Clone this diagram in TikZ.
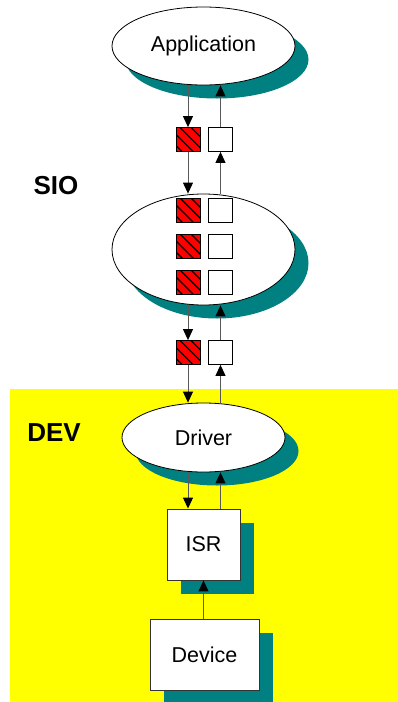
\documentclass[tikz,border=0pt]{standalone}
\usepackage{fontspec}
\setmainfont{Liberation Sans}
\usetikzlibrary{shapes.geometric,shadows,arrows.meta}
\definecolor{shadowteal}{HTML}{008080}
\definecolor{bgyellow}{HTML}{FFFF00}
\tikzset{
  shad/.style={drop shadow={shadow xshift=13.5pt, shadow yshift=-13.5pt, fill=shadowteal, opacity=1}},
  bigell/.style={ellipse, draw=black, line width=0.8pt, fill=white, inner sep=0pt, shad,
    font=\fontsize{21.5}{25}\selectfont},
  bigbox/.style={rectangle, draw=black!80, line width=0.9pt, fill=white, inner sep=0pt, shad,
    font=\fontsize{21.5}{25}\selectfont},
  whitesq/.style={rectangle, draw=black, line width=0.8pt, fill=white, minimum width=24pt, minimum height=24pt, inner sep=0pt},
  redsq/.style={whitesq, fill=red, path picture={
      \foreach \k in {-2,...,1}
        \draw[line width=1.4pt] ([xshift=\k*11pt+4pt]path picture bounding box.north west) -- ++(36pt,-36pt);
    }},
  arr/.style={draw=black!65, line width=1pt, -{Triangle[length=11pt,width=10pt,color=black]}},
  lab/.style={font=\fontsize{26}{30}\selectfont\bfseries}
}
\begin{document}
\begin{tikzpicture}[x=1pt,y=-1pt]
\useasboundingbox (0,0) rectangle (398,702);
\fill[bgyellow] (10,389) rectangle (398,702);

\node[lab] (siolab) at (56,186) {SIO};
\node[lab] (devlab) at (54,433) {DEV};

\node[bigell, minimum width=183pt, minimum height=78pt] (app) at (203.5,46) {Application};
\node[bigell, minimum width=183pt, minimum height=111pt] (sio) at (203.5,249.5) {};
\node[bigell, minimum width=163pt, minimum height=69pt] (drv) at (203.5,437.5) {Driver};
\node[bigbox, minimum width=73pt, minimum height=71pt] (isr) at (203.5,544.5) {ISR};
\node[bigbox, minimum width=109pt, minimum height=71pt] (dev) at (204.5,654.5) {Device};

\node[redsq] (r1) at (188,139.5) {};
\node[whitesq] (w1) at (220.5,139.5) {};
\node[redsq] (r2) at (188,210) {};
\node[whitesq] (w2) at (220.5,210) {};
\node[redsq] (r3) at (188,246) {};
\node[whitesq] (w3) at (220.5,246) {};
\node[redsq] (r4) at (188,282) {};
\node[whitesq] (w4) at (220.5,282) {};
\node[redsq] (r5) at (188,352.5) {};
\node[whitesq] (w5) at (220.5,352.5) {};

\draw[arr] (app.south -| r1) -- (r1.north);
\draw[arr] (r1.south) -- (sio.north -| r1);
\draw[arr] (sio.north -| w1) -- (w1.south);
\draw[arr] (w1.north) -- (app.south -| w1);

\draw[arr] (sio.south -| r5) -- (r5.north);
\draw[arr] (r5.south) -- (drv.north -| r5);
\draw[arr] (drv.north -| w5) -- (w5.south);
\draw[arr] (w5.north) -- (sio.south -| w5);

\draw[arr] (drv.south -| r5) -- (isr.north -| r5);
\draw[arr] (isr.north -| w5) -- (drv.south -| w5);

\draw[arr] (dev.north -| isr) -- (isr.south);
\end{tikzpicture}
\end{document}
